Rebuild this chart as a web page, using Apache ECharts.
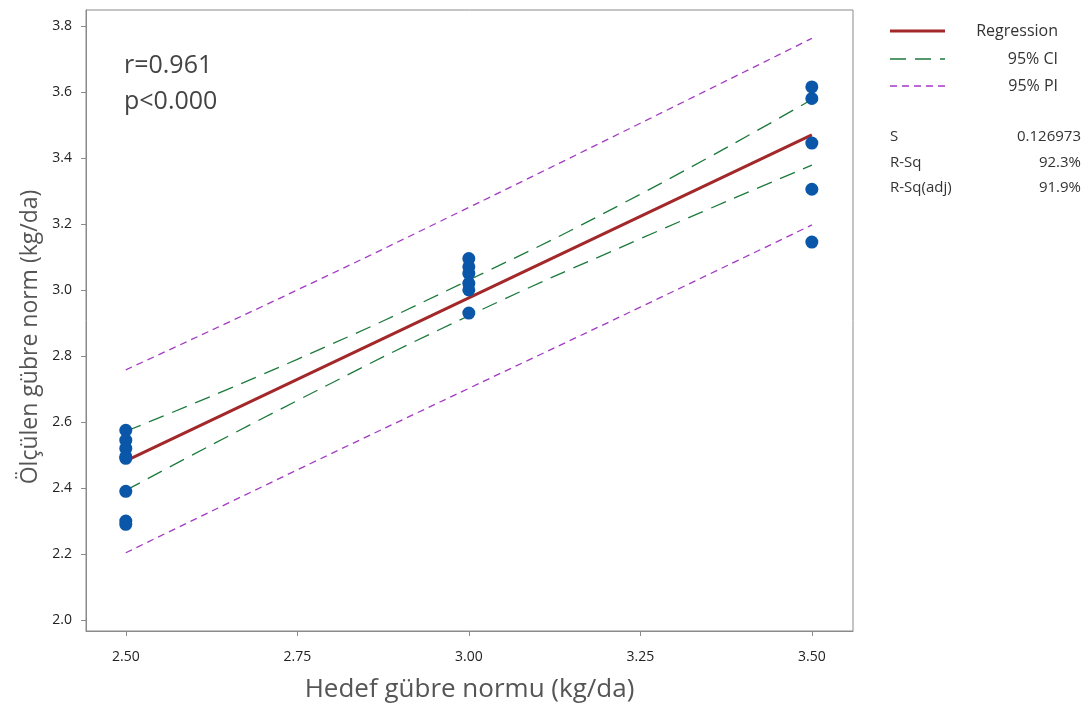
<!DOCTYPE html>
<html><head><meta charset="utf-8">
<script src="https://cdn.jsdelivr.net/npm/echarts@6/dist/echarts.min.js"></script>
<style>html,body{margin:0;padding:0;background:#fff}#c{width:1089px;height:720px}</style>
</head><body><div id="c"></div>
<script>
// Data
const xTicks = [2.5, 2.75, 3.0, 3.25, 3.5];
const yTicks = [2.0, 2.2, 2.4, 2.6, 2.8, 3.0, 3.2, 3.4, 3.6, 3.8];
const obsX = [2.5,2.5,2.5,2.5,2.5,2.5,2.5,2.5, 3.0,3.0,3.0,3.0,3.0,3.0, 3.5,3.5,3.5,3.5,3.5];
const obsY = [2.575,2.545,2.52,2.495,2.49,2.39,2.30,2.29, 3.095,3.07,3.05,3.02,3.00,2.93, 3.615,3.58,3.445,3.305,3.145];
const fitX = [2.5, 2.75, 3.0, 3.25, 3.5];
const regY = [2.482, 2.729, 2.976, 3.223, 3.47];
const ciUpper = [2.572, 2.79, 3.03, 3.29, 3.577];
const ciLower = [2.393, 2.665, 2.922, 3.155, 3.378];
const piUpper = [2.758, 3.0, 3.25, 3.505, 3.762];
const piLower = [2.204, 2.455, 2.702, 2.948, 3.197];
const statLabels = ['S', 'R-Sq', 'R-Sq(adj)'];
const statValues = ['0.126973', '92.3%', '91.9%'];

const zip = (a, b) => a.map((v, i) => [v, b[i]]);
const FONT = '"Open Sans", "Noto Sans", sans-serif';
const RED = '#a3282a', GREEN = '#1d7a3c', PURPLE = '#a43ac4', BLUE = '#0a56a8';

const chart = echarts.init(document.getElementById('c'));
const graphic = [
  {type:'text', x:124, y:66, style:{text:'r=0.961', font:'25px '+FONT, fill:'#444', verticalAlign:'middle'}},
  {type:'text', x:124, y:102, style:{text:'p<0.000', font:'25px '+FONT, fill:'#444', verticalAlign:'middle'}},
  {type:'text', x:30, y:337, rotation:Math.PI/2, style:{text:'Ölçülen gübre norm (kg/da)', font:'23px '+FONT, fill:'#555', align:'center', verticalAlign:'middle'}},
  {type:'line', shape:{x1:890,y1:31,x2:945,y2:31}, style:{stroke:RED, lineWidth:3}},
  {type:'line', shape:{x1:890,y1:59,x2:945,y2:59}, style:{stroke:GREEN, lineWidth:1.3, lineDash:[16,9]}},
  {type:'line', shape:{x1:890,y1:86,x2:945,y2:86}, style:{stroke:PURPLE, lineWidth:1.3, lineDash:[7,5]}},
  {type:'text', x:1058, y:31, style:{text:'Regression', font:'16px '+FONT, fill:'#333', align:'right', verticalAlign:'middle'}},
  {type:'text', x:1058, y:59, style:{text:'95% CI', font:'16px '+FONT, fill:'#333', align:'right', verticalAlign:'middle'}},
  {type:'text', x:1058, y:86, style:{text:'95% PI', font:'16px '+FONT, fill:'#333', align:'right', verticalAlign:'middle'}}
];
statLabels.forEach((t, i) => {
  graphic.push({type:'text', x:890, y:137 + i*25.5, style:{text:t, font:'15px '+FONT, fill:'#333', verticalAlign:'middle'}});
  graphic.push({type:'text', x:1081, y:137 + i*25.5, style:{text:statValues[i], font:'15px '+FONT, fill:'#333', align:'right', verticalAlign:'middle'}});
});

chart.setOption({
  backgroundColor:'#fff',
  animation:false,
  textStyle:{fontFamily:FONT},
  grid:{left:86, top:10, right:236, bottom:89, show:true, borderColor:'#8a8a8a', borderWidth:1, backgroundColor:'#fff'},
  xAxis:{type:'value', min:2.442, max:3.56,
    name:'Hedef gübre normu (kg/da)', nameLocation:'middle', nameGap:46,
    nameTextStyle:{fontSize:26, color:'#555', fontFamily:FONT},
    axisLine:{show:true, onZero:false, lineStyle:{color:'#8a8a8a'}},
    axisTick:{show:true, length:5, customValues:xTicks, lineStyle:{color:'#8a8a8a'}},
    axisLabel:{customValues:xTicks, color:'#222', fontSize:14, margin:19, formatter:v=>v.toFixed(2)},
    splitLine:{show:false}},
  yAxis:{type:'value', min:1.967, max:3.848,
    axisLine:{show:true, onZero:false, lineStyle:{color:'#8a8a8a'}},
    axisTick:{show:true, length:5, customValues:yTicks, lineStyle:{color:'#8a8a8a'}},
    axisLabel:{customValues:yTicks, color:'#222', fontSize:14, margin:14, formatter:v=>v.toFixed(1)},
    splitLine:{show:false}},
  graphic: graphic,
  series:[
    {type:'line', data:zip(fitX, piUpper), smooth:true, symbol:'none', lineStyle:{color:PURPLE, width:1.3, type:[7,5]}, z:2},
    {type:'line', data:zip(fitX, piLower), smooth:true, symbol:'none', lineStyle:{color:PURPLE, width:1.3, type:[7,5]}, z:2},
    {type:'line', data:zip(fitX, ciUpper), smooth:true, symbol:'none', lineStyle:{color:GREEN, width:1.3, type:[16,9]}, z:2},
    {type:'line', data:zip(fitX, ciLower), smooth:true, symbol:'none', lineStyle:{color:GREEN, width:1.3, type:[16,9]}, z:2},
    {type:'line', data:zip(fitX, regY), symbol:'none', lineStyle:{color:RED, width:3}, z:3},
    {type:'scatter', data:zip(obsX, obsY), symbol:'circle', symbolSize:13, itemStyle:{color:BLUE, opacity:1}, z:4}
  ]
});
</script></body></html>
